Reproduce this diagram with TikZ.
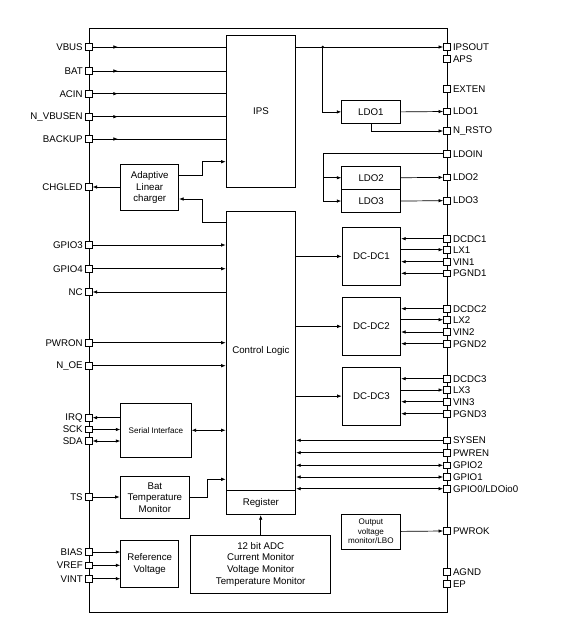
\documentclass[tikz,border=0pt]{standalone}
\usepackage{fontspec}
\setmainfont{Liberation Sans}
\usetikzlibrary{arrows.meta,decorations.markings}

\tikzset{
  chip/.style={draw, line width=1.4pt, inner sep=0pt, anchor=north west},
  pinbox/.style={draw, fill=white, line width=0.7pt, minimum size=6.5pt, inner sep=0pt},
  lbl/.style={font=\fontsize{9.7}{11.8}\selectfont, inner sep=2.5pt},
  blk/.style={draw, line width=0.8pt, align=center, inner sep=0pt, anchor=north west, font=\fontsize{9.7}{11.6}\selectfont},
  tinytext/.style={font=\fontsize{8.1}{9.6}\selectfont},
  wire/.style={line width=0.7pt},
  midarrow/.style={postaction={decorate}, decoration={markings, mark=at position 0.19 with {\arrow{>}}}}
}

\begin{document}
\begin{tikzpicture}[x=1pt, y=-1pt, >={Latex[length=4.5pt,width=3.5pt]}]
  \useasboundingbox (0,0) rectangle (573,637);
  %Chip:
  \node[chip, minimum width=357.7, minimum height=583.7] (chip) at (89,28) {};
  %Blocks:
  \node[blk, minimum width=69.6, minimum height=151.7] (ips) at (225.7,35.3) {IPS};
  \node[blk, minimum width=69.6, minimum height=279.6] (ctrl) at (225.7,210.7) {Control Logic};
  \node[blk, minimum width=69.6, minimum height=24] (reg) at (225.7,490.3) {Register};
  \node[blk, minimum width=58, minimum height=46.3] (chg) at (120.3,164) {Adaptive\\Linear\\charger};
  \node[blk, minimum width=58.4, minimum height=23.4] (ldoa) at (341.3,99.8) {LDO1};
  \node[blk, minimum width=59, minimum height=23.3] (ldob) at (341.3,165.7) {LDO2};
  \node[blk, minimum width=59, minimum height=23.3] (ldoc) at (341.3,189) {LDO3};
  \node[blk, minimum width=58.6, minimum height=58.6] (dca) at (341.7,226.7) {DC-DC1};
  \node[blk, minimum width=58.6, minimum height=58] (dcb) at (341.7,297) {DC-DC2};
  \node[blk, minimum width=58.6, minimum height=58] (dcc) at (341.7,366.7) {DC-DC3};
  \node[blk, tinytext, minimum width=58.4, minimum height=35] (mon) at (341.3,513.5) {Output\\voltage\\monitor/LBO};
  \node[blk, tinytext, minimum width=70.4, minimum height=54.3] (ser) at (120.3,402.7) {Serial Interface};
  \node[blk, minimum width=69.6, minimum height=41.7] (tmon) at (119.7,476.3) {Bat\\Temperature\\Monitor};
  \node[blk, minimum width=58, minimum height=46.7] (refv) at (120.3,540.3) {Reference\\Voltage};
  \node[blk, minimum width=140, minimum height=58.3] (adc) at (190.3,534.7) {12 bit ADC\\Current Monitor\\Voltage Monitor\\Temperature Monitor};
  %Left pins:
  \node[pinbox, label={[lbl]left:VBUS}] (pvbus) at (89,47) {};
  \node[pinbox, label={[lbl]left:BAT}] (pbat) at (89,71) {};
  \node[pinbox, label={[lbl]left:ACIN}] (pacin) at (89,93.7) {};
  \node[pinbox, label={[lbl]left:N\_VBUSEN}] (pnvbusen) at (89,116.7) {};
  \node[pinbox, label={[lbl]left:BACKUP}] (pbackup) at (89,139) {};
  \node[pinbox, label={[lbl]left:CHGLED}] (pchgled) at (89,187) {};
  \node[pinbox, label={[lbl]left:GPIO3}] (pgpio3) at (89,245) {};
  \node[pinbox, label={[lbl]left:GPIO4}] (pgpio4) at (89,268.7) {};
  \node[pinbox, label={[lbl]left:NC}] (pnc) at (89,292) {};
  \node[pinbox, label={[lbl]left:PWRON}] (ppwron) at (89,342.7) {};
  \node[pinbox, label={[lbl]left:N\_OE}] (pnoe) at (89,365.7) {};
  \node[pinbox, label={[lbl]left:IRQ}] (pirq) at (89,417.7) {};
  \node[pinbox, label={[lbl]left:SCK}] (psck) at (89,429.5) {};
  \node[pinbox, label={[lbl]left:SDA}] (psda) at (89,441) {};
  \node[pinbox, label={[lbl]left:TS}] (pts) at (89,497) {};
  \node[pinbox, label={[lbl]left:BIAS}] (pbias) at (89,552) {};
  \node[pinbox, label={[lbl]left:VREF}] (pvref) at (89,565.3) {};
  \node[pinbox, label={[lbl]left:VINT}] (pvint) at (89,578.7) {};
  %Right pins:
  \node[pinbox, label={[lbl]right:IPSOUT}] (pipsout) at (446.7,47) {};
  \node[pinbox, label={[lbl]right:APS}] (paps) at (446.7,58.7) {};
  \node[pinbox, label={[lbl]right:EXTEN}] (pexten) at (446.7,88.7) {};
  \node[pinbox, label={[lbl]right:LDO1}] (pldo1) at (446.7,111.5) {};
  \node[pinbox, label={[lbl]right:N\_RSTO}] (pnrsto) at (446.7,131) {};
  \node[pinbox, label={[lbl]right:LDOIN}] (pldoin) at (446.7,153.7) {};
  \node[pinbox, label={[lbl]right:LDO2}] (pldo2) at (446.7,177.35) {};
  \node[pinbox, label={[lbl]right:LDO3}] (pldo3) at (446.7,200.65) {};
  \node[pinbox, label={[lbl]right:DCDC1}] (pdcdc1) at (446.7,238.7) {};
  \node[pinbox, label={[lbl]right:LX1}] (plx1) at (446.7,249.7) {};
  \node[pinbox, label={[lbl]right:VIN1}] (pvin1) at (446.7,261.7) {};
  \node[pinbox, label={[lbl]right:PGND1}] (ppgnd1) at (446.7,273.3) {};
  \node[pinbox, label={[lbl]right:DCDC2}] (pdcdc2) at (446.7,308.7) {};
  \node[pinbox, label={[lbl]right:LX2}] (plx2) at (446.7,319.7) {};
  \node[pinbox, label={[lbl]right:VIN2}] (pvin2) at (446.7,332) {};
  \node[pinbox, label={[lbl]right:PGND2}] (ppgnd2) at (446.7,343.7) {};
  \node[pinbox, label={[lbl]right:DCDC3}] (pdcdc3) at (446.7,378.7) {};
  \node[pinbox, label={[lbl]right:LX3}] (plx3) at (446.7,390) {};
  \node[pinbox, label={[lbl]right:VIN3}] (pvin3) at (446.7,401.7) {};
  \node[pinbox, label={[lbl]right:PGND3}] (ppgnd3) at (446.7,413.7) {};
  \node[pinbox, label={[lbl]right:SYSEN}] (psysen) at (446.7,440.3) {};
  \node[pinbox, label={[lbl]right:PWREN}] (ppwren) at (446.7,452.7) {};
  \node[pinbox, label={[lbl]right:GPIO2}] (pgpio2) at (446.7,465.3) {};
  \node[pinbox, label={[lbl]right:GPIO1}] (pgpio1) at (446.7,477) {};
  \node[pinbox, label={[lbl]right:GPIO0/LDOio0}] (pgpio0) at (446.7,488.7) {};
  \node[pinbox, label={[lbl]right:PWROK}] (ppwrok) at (446.7,531) {};
  \node[pinbox, label={[lbl]right:AGND}] (pagnd) at (446.7,571.7) {};
  \node[pinbox, label={[lbl]right:EP}] (pep) at (446.7,583.7) {};
  %Bends:
  \coordinate (cup) at (202,161.7);
  \coordinate (cdn) at (202,199);
  \coordinate (cbat) at (207.3,479.3);
  \coordinate (jips) at (322.7,47);
  \coordinate (jldo) at (323.3,0 |- ldoc);
  %Edges, left side:
  \draw[wire, midarrow] (pvbus.east) -- (pvbus -| ips.west);
  \draw[wire, midarrow] (pbat.east) -- (pbat -| ips.west);
  \draw[wire, midarrow] (pacin.east) -- (pacin -| ips.west);
  \draw[wire, midarrow] (pnvbusen.east) -- (pnvbusen -| ips.west);
  \draw[wire, midarrow] (pbackup.east) -- (pbackup -| ips.west);
  \draw[wire, ->] (pchgled -| chg.west) -- (pchgled.east);
  \draw[wire, ->] (chg.east |- 0,175) -| (cup) -- (cup -| ips.west);
  \draw[wire, ->] (ctrl.west |- 0,222) -| (cdn) -- (cdn -| chg.east);
  \draw[wire, ->] (pgpio3.east) -- (pgpio3 -| ctrl.west);
  \draw[wire, ->] (pgpio4.east) -- (pgpio4 -| ctrl.west);
  \draw[wire, ->] (pnc -| ctrl.west) -- (pnc.east);
  \draw[wire, ->] (ppwron.east) -- (ppwron -| ctrl.west);
  \draw[wire, ->] (pnoe.east) -- (pnoe -| ctrl.west);
  \draw[wire, ->] (pirq -| ser.west) -- (pirq.east);
  \draw[wire, ->] (psck.east) -- (psck -| ser.west);
  \draw[wire, <->] (psda.east) -- (psda -| ser.west);
  \draw[wire, <->] (ser.east) -- (ser.east -| ctrl.west);
  \draw[wire, ->] (pts.east) -- (pts -| tmon.west);
  \draw[wire, ->] (tmon.east) -| (cbat) -- (cbat -| ctrl.west);
  \draw[wire, ->] (pbias.east) -- (pbias -| refv.west);
  \draw[wire, ->] (pvref.east) -- (pvref -| refv.west);
  \draw[wire, ->] (pvint.east) -- (pvint -| refv.west);
  \draw[wire, ->] (adc.north) -- (adc.north |- reg.south);
  %Edges, right side:
  \draw[wire, ->] (pipsout -| ips.east) -- (pipsout.west);
  \fill (jips) circle (1.3);
  \draw[wire, ->] (jips) |- (ldoa.west);
  \draw[wire, ->] (ldoa.east) -- (pldo1.west);
  \draw[wire, ->] (ldoa.south) |- (pnrsto.west);
  \draw[wire] (pldoin.west) -| (jldo);
  \draw[wire, ->] (jldo) -- (ldoc.west);
  \draw[wire, ->] (jldo |- ldob) -- (ldob.west);
  \draw[wire, ->] (ldob.east) -- (pldo2.west);
  \draw[wire, ->] (ldoc.east) -- (pldo3.west);
  \draw[wire, ->] (ctrl.east |- dca) -- (dca.west);
  \draw[wire, ->] (ctrl.east |- dcb) -- (dcb.west);
  \draw[wire, ->] (ctrl.east |- dcc) -- (dcc.west);
  \draw[wire, ->] (pdcdc1.west) -- (pdcdc1 -| dca.east);
  \draw[wire, ->] (plx1 -| dca.east) -- (plx1.west);
  \draw[wire, ->] (pvin1.west) -- (pvin1 -| dca.east);
  \draw[wire, ->] (ppgnd1.west) -- (ppgnd1 -| dca.east);
  \draw[wire, ->] (pdcdc2.west) -- (pdcdc2 -| dcb.east);
  \draw[wire, ->] (plx2 -| dcb.east) -- (plx2.west);
  \draw[wire, ->] (pvin2.west) -- (pvin2 -| dcb.east);
  \draw[wire, ->] (ppgnd2.west) -- (ppgnd2 -| dcb.east);
  \draw[wire, ->] (pdcdc3.west) -- (pdcdc3 -| dcc.east);
  \draw[wire, ->] (plx3 -| dcc.east) -- (plx3.west);
  \draw[wire, ->] (pvin3.west) -- (pvin3 -| dcc.east);
  \draw[wire, ->] (ppgnd3.west) -- (ppgnd3 -| dcc.east);
  \draw[wire, ->] (psysen.west) -- (psysen -| ctrl.east);
  \draw[wire, ->] (ppwren.west) -- (ppwren -| ctrl.east);
  \draw[wire, <->] (pgpio2.west) -- (pgpio2 -| ctrl.east);
  \draw[wire, <->] (pgpio1.west) -- (pgpio1 -| ctrl.east);
  \draw[wire, <->] (pgpio0.west) -- (pgpio0 -| ctrl.east);
  \draw[wire, ->] (mon.east) -- (ppwrok.west);
\end{tikzpicture}
\end{document}
